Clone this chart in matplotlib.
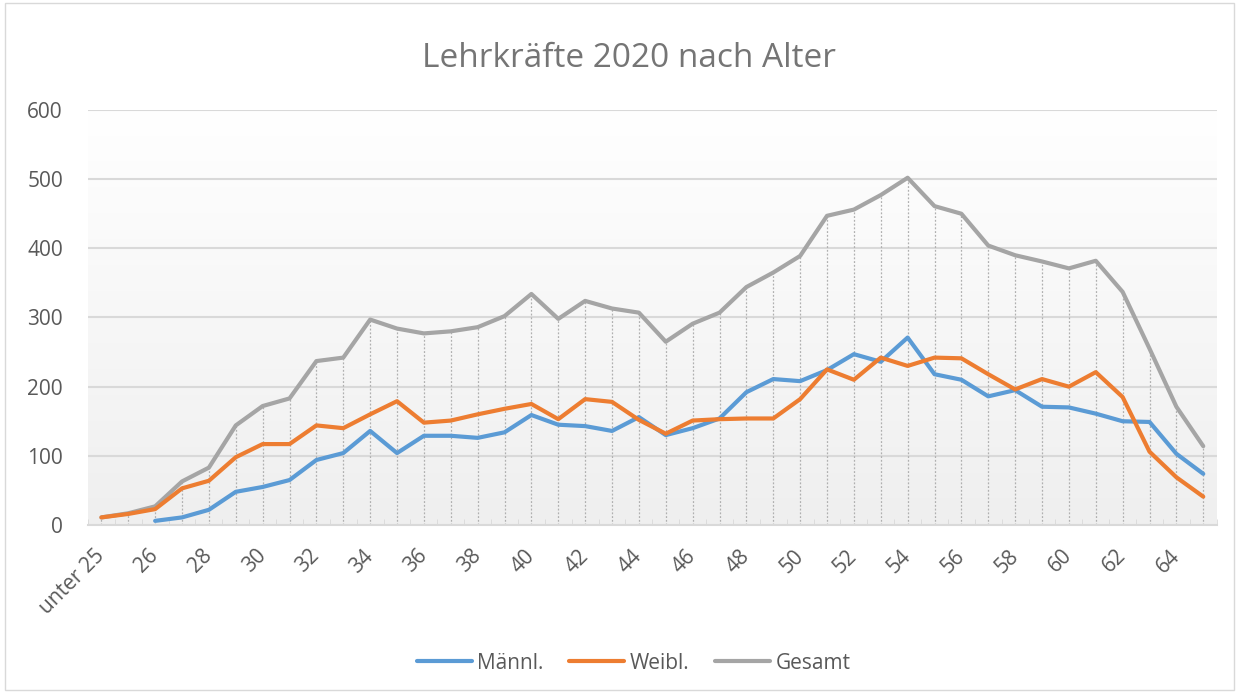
import numpy as np
import matplotlib
matplotlib.use('Agg')
import matplotlib.pyplot as plt
from matplotlib.patches import Rectangle

plt.rcParams['font.family'] = ['Open Sans', 'DejaVu Sans']

# categories: unter 25, 25, 26, ..., 65
categories = ['unter 25'] + [str(a) for a in range(25, 66)]

maennl = [np.nan, np.nan, 6, 11, 22, 48, 55, 65, 94, 104,
          136, 104, 129, 129, 126, 134, 159, 145, 143, 136,
          156, 130, 140, 154, 192, 211, 208, 224, 247, 236,
          271, 218, 210, 186, 195, 171, 170, 161, 150, 149,
          103, 74]
weibl = [11, 16, 23, 53, 64, 98, 117, 117, 144, 140,
         160, 179, 148, 151, 160, 168, 175, 153, 182, 178,
         152, 132, 151, 153, 154, 154, 182, 225, 210, 242,
         230, 242, 241, 218, 196, 211, 200, 221, 185, 106,
         69, 41]
gesamt = [11, 17, 27, 63, 83, 144, 172, 183, 237, 242,
          297, 284, 277, 280, 286, 302, 334, 298, 324, 313,
          307, 265, 291, 307, 344, 365, 389, 447, 456, 477,
          502, 461, 450, 404, 390, 381, 371, 382, 337, 255,
          171, 114]

yticks = [0, 100, 200, 300, 400, 500, 600]

txt_col = '#595959'
grid_col = '#d9d9d9'

fig = plt.figure(figsize=(12.39, 6.93), dpi=100)
fig.patch.set_facecolor('white')
fig.patches.append(Rectangle((0.004, 0.004), 0.992, 0.992, transform=fig.transFigure,
                             fill=False, edgecolor='#d9d9d9', linewidth=1))

ax = fig.add_axes([0.071, 0.2424, 0.911, 0.5989])
x = np.arange(len(categories))

# gradient background
grad = np.linspace(0, 1, 256).reshape(-1, 1)
cmap = matplotlib.colors.LinearSegmentedColormap.from_list('g', ['#ffffff', '#efefef'])
ax.imshow(grad, cmap=cmap, extent=[0, 1, 0, 1], transform=ax.transAxes,
          aspect='auto', zorder=0, origin='upper')

for yt in yticks:
    ax.axhline(yt, color=grid_col, linewidth=1.5, zorder=1)

# drop lines
ax.vlines(x, 0, gesamt, colors='#b0b0b0', linestyles=(0, (1.5, 1.5)), linewidth=0.9, zorder=1)

ax.plot(x, maennl, color='#5B9BD5', linewidth=3, label='Männl.', zorder=3, solid_capstyle='round')
ax.plot(x, weibl, color='#ED7D31', linewidth=3, label='Weibl.', zorder=3, solid_capstyle='round')
ax.plot(x, gesamt, color='#A5A5A5', linewidth=3, label='Gesamt', zorder=2, solid_capstyle='round')

ax.set_xlim(-0.5, len(categories) - 0.5)
ax.set_ylim(0, 600)
ax.set_yticks(yticks)
ax.tick_params(axis='y', length=0, labelsize=15, labelcolor=txt_col, pad=18)

ax.set_xticks(x[::2])
ax.set_xticklabels(categories[::2], rotation=45, ha='right', va='center',
                   rotation_mode='anchor', fontsize=15, color=txt_col)
ax.tick_params(axis='x', length=0, pad=20)
ax.set_xticks(np.arange(-0.5, len(categories), 1), minor=True)
ax.tick_params(axis='x', which='minor', length=4, color=grid_col, direction='in')

for s in ['top', 'right', 'left']:
    ax.spines[s].set_visible(False)
ax.spines['bottom'].set_color(grid_col)
ax.spines['bottom'].set_linewidth(1.5)

fig.text(0.5077, 1 - 67 / 693, 'Lehrkräfte 2020 nach Alter', ha='center', va='baseline',
         fontsize=24, color='#757575')

fig.legend(loc='center', bbox_to_anchor=(0.5113, 0.043), ncol=3, frameon=False,
           fontsize=15, labelcolor=txt_col, handlelength=2.64, columnspacing=1.25,
           handletextpad=0.25)

fig.savefig('out.png', dpi=100)
